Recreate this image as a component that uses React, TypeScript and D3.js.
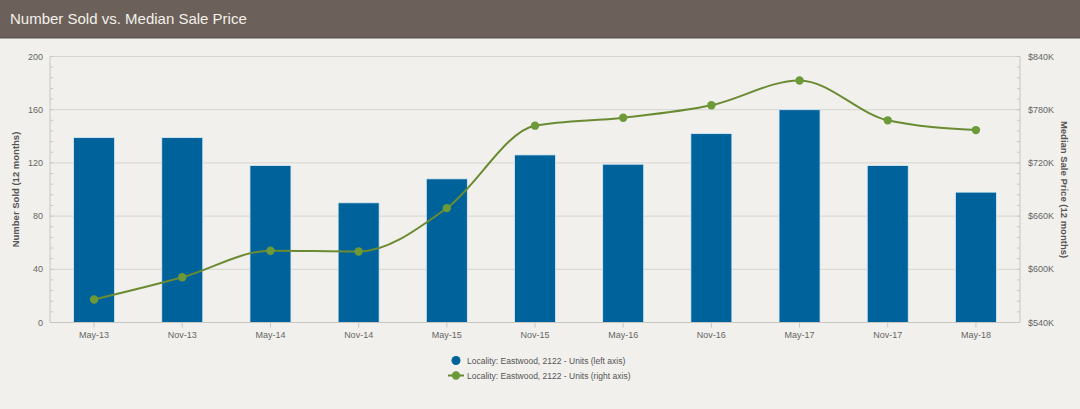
import React from 'react';
import * as d3 from 'd3';

const periods = ['May-13', 'Nov-13', 'May-14', 'Nov-14', 'May-15', 'Nov-15', 'May-16', 'Nov-16', 'May-17', 'Nov-17', 'May-18'];
const numberSold = [139, 139, 118, 90, 108, 126, 119, 142, 160, 118, 98];
const medianPrice = [566, 591, 621, 620, 669, 762, 771, 785, 813, 768, 757]; // $K
const leftTicks = [0, 40, 80, 120, 160, 200];
const rightTicks = [540, 600, 660, 720, 780, 840];

const W = 1080;
const H = 409;
const margin = { top: 56.5, right: 60, bottom: 86.5, left: 50 };
const font = '"Liberation Sans", Arial, sans-serif';

const App = () => {
  const plotW = W - margin.left - margin.right;
  const y0 = H - margin.bottom;

  const x = d3.scaleBand().domain(periods).range([margin.left, margin.left + plotW]).paddingInner(0.535).paddingOuter(0.2675);
  const yLeft = d3.scaleLinear().domain([0, 200]).range([y0, margin.top]);
  const yRight = d3.scaleLinear().domain([540, 840]).range([y0, margin.top]);
  const cx = (p) => x(p) + x.bandwidth() / 2;

  const line = d3
    .line()
    .x((d, i) => cx(periods[i]))
    .y(d => yRight(d))
    .curve(d3.curveMonotoneX);

  const minorTicks = d3.range(0, 201, 8);
  const rightX = margin.left + plotW;

  return (
    <svg width={W} height={H} style={{ position: 'fixed', left: 0, top: 0 }} fontFamily={font}>
      <rect width={W} height={H} fill="#f1f0ec" />
      <rect width={W} height={38} fill="#6b615a" />
      <rect y={37} width={W} height={1.5} fill="#5d544e" />
      <text x={10} y={24} fontSize={15} fill="#f3f0ea">Number Sold vs. Median Sale Price</text>

      {/* gridlines */}
      {leftTicks.map(t => (
        <line key={t} x1={margin.left} x2={rightX} y1={yLeft(t)} y2={yLeft(t)} stroke="#d6d4cf" strokeWidth={1} />
      ))}

      {/* bars */}
      {numberSold.map((v, i) => (
        <rect
          key={periods[i]}
          x={x(periods[i])}
          y={yLeft(v)}
          width={x.bandwidth()}
          height={y0 - yLeft(v)}
          fill="#00629a"
          stroke="#d8ecf6"
          strokeWidth={0.8}
        />
      ))}

      {/* spline */}
      <path d={line(medianPrice)} fill="none" stroke="#6b8b33" strokeWidth={2} />
      {medianPrice.map((v, i) => (
        <circle key={periods[i]} cx={cx(periods[i])} cy={yRight(v)} r={4.2} fill="#6d9a38" />
      ))}

      {/* left axis */}
      <line x1={margin.left} x2={margin.left} y1={margin.top} y2={y0} stroke="#c8c6c1" />
      {minorTicks.map(t => (
        <line key={t} x1={margin.left} x2={margin.left + 3} y1={yLeft(t)} y2={yLeft(t)} stroke="#c8c6c1" />
      ))}
      {leftTicks.map(t => (
        <text key={t} x={margin.left - 7} y={yLeft(t) + 3} fontSize={9} fill="#666" textAnchor="end">{t}</text>
      ))}
      <text
        transform={`translate(19,${(margin.top + y0) / 2}) rotate(-90)`}
        fontSize={9.5}
        fontWeight="bold"
        fill="#555"
        textAnchor="middle"
      >
        Number Sold (12 months)
      </text>

      {/* right axis */}
      <line x1={rightX} x2={rightX} y1={margin.top} y2={y0} stroke="#c8c6c1" />
      {d3.range(540, 841, 12).map(t => (
        <line key={t} x1={rightX} x2={rightX - 3} y1={yRight(t)} y2={yRight(t)} stroke="#c8c6c1" />
      ))}
      {rightTicks.map(t => (
        <text key={t} x={rightX + 8} y={yRight(t) + 3} fontSize={9} fill="#666">{`$${t}K`}</text>
      ))}
      <text
        transform={`translate(1061,${(margin.top + y0) / 2}) rotate(90)`}
        fontSize={9.5}
        fontWeight="bold"
        fill="#555"
        textAnchor="middle"
      >
        Median Sale Price (12 months)
      </text>

      {/* x axis */}
      <line x1={margin.left} x2={rightX} y1={y0} y2={y0} stroke="#c8c6c1" />
      {periods.map(p => (
        <g key={p}>
          <line x1={cx(p)} x2={cx(p)} y1={y0} y2={y0 + 5} stroke="#c8c6c1" />
          <text x={cx(p)} y={y0 + 15} fontSize={9} fill="#666" textAnchor="middle">{p}</text>
        </g>
      ))}

      {/* legend */}
      <circle cx={456} cy={360.5} r={4.5} fill="#00629a" />
      <text x={467} y={363.5} fontSize={8.5} fill="#555">Locality: Eastwood, 2122 - Units (left axis)</text>
      <line x1={448} x2={464} y1={375.5} y2={375.5} stroke="#6b8b33" strokeWidth={2} />
      <circle cx={456} cy={375.5} r={4.2} fill="#6d9a38" />
      <text x={467} y={378.5} fontSize={8.5} fill="#555">Locality: Eastwood, 2122 - Units (right axis)</text>
    </svg>
  );
};

export default App;
